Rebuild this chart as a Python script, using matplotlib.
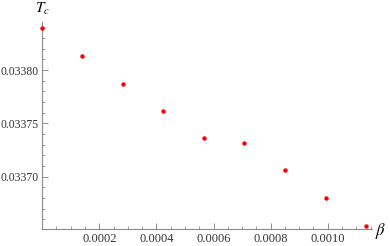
import matplotlib
matplotlib.use("Agg")
import matplotlib.pyplot as plt
from matplotlib.ticker import MultipleLocator, FixedLocator

beta = [0.0, 0.000138, 0.000282, 0.000424, 0.000566, 0.000708, 0.000850, 0.000993, 0.001134]
Tc = [0.033839, 0.033813, 0.033787, 0.033762, 0.033736, 0.033732, 0.033706, 0.033680, 0.033654]
xticks = [0.0002, 0.0004, 0.0006, 0.0008, 0.0010]
xticklabels = ["0.0002", "0.0004", "0.0006", "0.0008", "0.0010"]
yticks = [0.03370, 0.03375, 0.03380]
yticklabels = ["0.03370", "0.03375", "0.03380"]

W, H = 390, 246
fig = plt.figure(figsize=(W / 100, H / 100), dpi=100)
x0, x1 = 42.2, 372.0
y0, y1 = 229.0, 22.0
ax = fig.add_axes([x0 / W, (H - y0) / H, (x1 - x0) / W, (y0 - y1) / H])
ax.set_xlim(0, 0.001155)
ax.set_ylim(0.033651, 0.033845)

serif = ["Liberation Serif", "DejaVu Serif"]
axc = "#8c8c8c"
for s in ["top", "right"]:
    ax.spines[s].set_visible(False)
for s in ["left", "bottom"]:
    ax.spines[s].set_color(axc)
    ax.spines[s].set_linewidth(0.8)

ax.plot(beta, Tc, "o", color="#ff0000", markersize=3.2, markeredgewidth=0, clip_on=False, zorder=5)

ax.xaxis.set_major_locator(FixedLocator(xticks))
ax.set_xticklabels(xticklabels)
ax.xaxis.set_minor_locator(MultipleLocator(0.00005))
ax.yaxis.set_major_locator(FixedLocator(yticks))
ax.set_yticklabels(yticklabels)
ax.yaxis.set_minor_locator(MultipleLocator(0.00001))

ax.tick_params(which="major", direction="in", length=4, width=0.7, color=axc,
               labelcolor="#333333", pad=3)
ax.tick_params(axis="x", which="major", labelsize=9)
ax.tick_params(axis="y", which="major", labelsize=8.4, pad=2.5)
ax.tick_params(which="minor", direction="in", length=2.3, width=0.6, color=axc)
for lab in ax.get_xticklabels() + ax.get_yticklabels():
    lab.set_family(serif)

fig.text(42 / W, 1 - 9 / H, r"$T_c$", ha="center", va="center", fontsize=11,
         math_fontfamily="stix")
fig.text(381 / W, 1 - 231 / H, r"$\beta$", ha="center", va="center", fontsize=12,
         math_fontfamily="stix")

fig.savefig("out.png", dpi=100)
